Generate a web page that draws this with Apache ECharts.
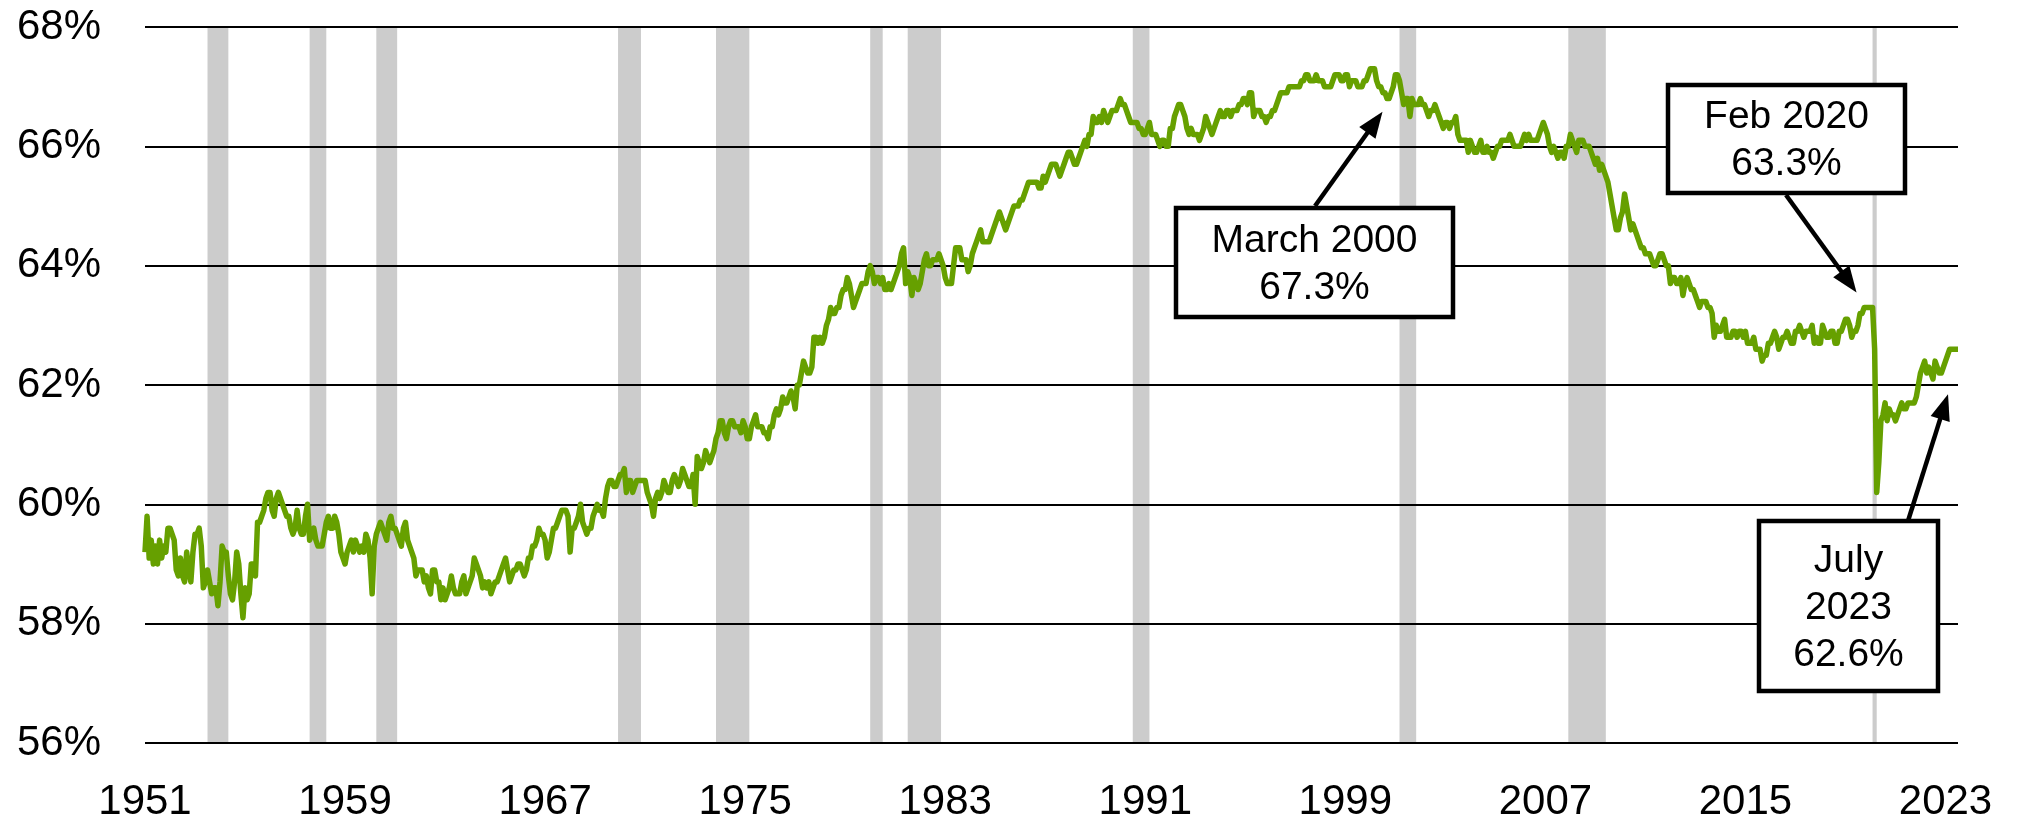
<!DOCTYPE html>
<html><head><meta charset="utf-8">
<script src="https://cdn.jsdelivr.net/npm/echarts/dist/echarts.min.js"></script>
<style>html,body{margin:0;padding:0;background:#fff}#c{width:2017px;height:823px}</style>
</head><body><div id="c"></div>
<script>
// ---- data ----
const firstYear = 1951, lastYear = 2023, lastMonth = 7;
const tickYears = ['1951','1959','1967','1975','1983','1991','1999','2007','2015','2023'];
const yMin = 56, yMax = 68, yStep = 2;

const lfpr1950s = [
59.2,59.8,59.1,59.4,59.0,59.3,59.0,59.4,59.1,59.3,59.2,59.6,
59.6,59.5,59.4,58.9,58.8,59.1,58.8,58.7,59.2,58.9,58.7,59.2,
59.5,59.5,59.6,59.3,58.6,58.7,58.9,58.7,58.5,58.6,58.6,58.3,
58.7,59.3,59.2,59.2,58.8,58.5,58.4,58.7,59.2,59.0,58.5,58.1,
58.6,58.4,58.5,59.0,59.0,58.8,59.7,59.7,59.8,59.9,60.1,60.2,
60.2,59.9,59.8,60.1,60.2,60.1,60.0,59.9,59.8,59.8,59.6,59.5,
59.6,59.9,59.6,59.5,59.5,59.8,60.0,59.4,59.5,59.6,59.4,59.3,
59.3,59.3,59.5,59.7,59.8,59.6,59.6,59.8,59.7,59.5,59.2,59.1,
59.0,59.2,59.3,59.4,59.2,59.4,59.3,59.2,59.3,59.2,59.5,59.4];
const lfpr1960s = [
59.1,58.5,59.3,59.5,59.6,59.7,59.6,59.5,59.4,59.7,59.8,59.6,
59.6,59.5,59.4,59.3,59.6,59.7,59.4,59.3,59.2,59.1,58.8,58.9,
58.9,58.9,58.7,58.8,58.6,58.5,58.9,58.9,58.7,58.7,58.4,58.6,
58.4,58.5,58.6,58.8,58.6,58.5,58.5,58.5,58.7,58.8,58.5,58.6,
58.7,58.8,59.1,59.0,58.9,58.8,58.6,58.7,58.6,58.7,58.5,58.6,
58.7,58.7,58.8,58.9,59.0,59.1,58.9,58.7,58.8,58.9,58.9,59.0,
59.0,58.9,58.8,58.9,59.1,59.1,59.3,59.3,59.4,59.6,59.5,59.5,
59.4,59.1,59.2,59.4,59.6,59.6,59.7,59.8,59.9,59.9,59.9,59.8,
59.2,59.6,59.6,59.7,59.8,60.0,59.7,59.6,59.5,59.6,59.6,59.8,
59.9,60.0,59.9,59.9,59.8,60.1,60.3,60.4,60.4,60.3,60.3,60.4];
const lfpr1970s = [
60.5,60.5,60.6,60.2,60.4,60.4,60.2,60.3,60.4,60.4,60.4,60.4,
60.4,60.2,60.1,60.0,59.8,60.1,60.2,60.1,60.2,60.4,60.3,60.2,
60.2,60.4,60.5,60.4,60.3,60.4,60.6,60.5,60.4,60.3,60.3,60.5,
60.0,60.8,60.7,60.6,60.7,60.9,60.8,60.7,60.8,60.9,61.1,61.2,
61.4,61.4,61.2,61.1,61.3,61.4,61.4,61.3,61.3,61.3,61.2,61.4,
61.3,61.1,61.1,61.3,61.4,61.5,61.3,61.3,61.3,61.2,61.2,61.1,
61.3,61.3,61.5,61.6,61.5,61.6,61.8,61.7,61.7,61.8,61.9,61.8,
61.6,62.0,62.0,62.2,62.4,62.3,62.2,62.2,62.3,62.8,62.8,62.7,
62.8,62.7,62.8,63.0,63.1,63.3,63.2,63.2,63.3,63.3,63.5,63.6,
63.6,63.8,63.7,63.5,63.3,63.4,63.5,63.6,63.7,63.7,63.7,63.9];
const lfpr1980s = [
64.0,63.9,63.7,63.8,63.8,63.7,63.8,63.6,63.6,63.7,63.6,63.7,
63.8,63.9,64.0,64.2,64.3,63.7,63.9,63.8,63.5,63.8,63.7,63.6,
63.7,63.9,64.1,64.2,64.0,64.0,64.1,64.1,64.1,64.2,64.1,64.0,
63.8,63.7,63.7,63.7,64.0,64.3,64.3,64.3,64.1,64.1,64.1,63.9,
64.0,64.2,64.3,64.4,64.5,64.6,64.4,64.4,64.4,64.4,64.5,64.6,
64.7,64.8,64.9,64.8,64.7,64.6,64.7,64.8,64.9,65.0,65.0,65.0,
65.1,65.1,65.2,65.3,65.4,65.4,65.4,65.4,65.4,65.3,65.3,65.5,
65.4,65.5,65.6,65.7,65.7,65.7,65.6,65.5,65.6,65.7,65.8,65.9,
65.9,65.8,65.7,65.7,65.8,65.9,66.0,66.1,66.0,66.2,66.2,66.5,
66.4,66.4,66.5,66.4,66.6,66.5,66.4,66.5,66.6,66.6,66.6,66.7];
const lfpr1990s = [
66.8,66.7,66.7,66.6,66.5,66.4,66.4,66.4,66.4,66.3,66.3,66.2,
66.2,66.3,66.4,66.2,66.2,66.2,66.1,66.0,66.1,66.1,66.0,66.0,
66.3,66.3,66.5,66.6,66.7,66.7,66.6,66.5,66.3,66.2,66.3,66.2,
66.2,66.2,66.1,66.2,66.3,66.5,66.4,66.3,66.2,66.3,66.4,66.5,
66.6,66.5,66.5,66.6,66.6,66.5,66.6,66.6,66.6,66.7,66.7,66.8,
66.8,66.7,66.9,66.9,66.5,66.6,66.6,66.6,66.5,66.5,66.4,66.5,
66.5,66.6,66.6,66.7,66.8,66.9,66.9,66.9,66.9,67.0,67.0,67.0,
67.0,67.0,67.0,67.1,67.1,67.2,67.2,67.1,67.1,67.1,67.2,67.1,
67.1,67.1,67.0,67.0,67.0,67.0,67.1,67.2,67.2,67.2,67.1,67.1,
67.2,67.2,67.0,67.1,67.1,67.1,67.0,67.0,67.0,67.1,67.1,67.2];
const lfpr2000s = [
67.3,67.3,67.3,67.1,67.0,67.0,66.9,66.9,66.8,66.8,66.9,67.0,
67.2,67.2,67.1,66.9,66.7,66.8,66.8,66.5,66.8,66.7,66.7,66.7,
66.8,66.7,66.7,66.6,66.5,66.6,66.6,66.7,66.6,66.5,66.4,66.3,
66.4,66.4,66.3,66.4,66.4,66.5,66.2,66.1,66.1,66.1,66.1,65.9,
66.1,66.0,65.9,65.9,66.0,66.1,65.9,65.9,66.0,65.9,65.9,65.8,
65.9,66.0,66.0,66.1,66.1,66.1,66.1,66.2,66.1,66.0,66.0,66.0,
66.0,66.1,66.2,66.1,66.2,66.1,66.1,66.1,66.1,66.2,66.3,66.4,
66.3,66.2,66.0,65.9,66.0,65.9,65.8,65.9,65.9,65.8,66.0,66.0,
66.2,66.1,66.0,65.9,66.1,66.1,66.1,66.0,66.0,66.0,65.9,65.8,
65.7,65.8,65.6,65.7,65.6,65.5,65.4,65.2,65.0,64.8,64.6,64.6];
const lfpr2010s = [
64.8,64.9,65.2,65.0,64.8,64.6,64.7,64.6,64.5,64.4,64.3,64.3,
64.2,64.2,64.2,64.1,64.0,64.0,64.1,64.2,64.2,64.1,64.0,64.0,
63.7,63.8,63.8,63.7,63.7,63.8,63.5,63.7,63.8,63.7,63.6,63.6,
63.5,63.4,63.3,63.4,63.4,63.4,63.3,63.3,63.2,62.8,63.0,62.9,
62.9,63.0,63.1,62.8,62.8,62.8,62.9,62.9,62.8,62.9,62.9,62.8,
62.9,62.7,62.7,62.7,62.8,62.6,62.6,62.6,62.4,62.5,62.5,62.7,
62.7,62.8,62.9,62.8,62.6,62.7,62.8,62.8,62.9,62.8,62.7,62.7,
62.9,62.9,63.0,62.9,62.8,62.9,62.9,62.9,63.0,62.7,62.8,62.7,
62.7,63.0,62.9,62.8,62.8,62.9,62.9,62.7,62.7,62.9,62.9,63.0,
63.1,63.1,63.0,62.8,62.9,62.9,63.0,63.2,63.2,63.3,63.3,63.3];
const lfpr2020s = [
63.3,63.3,62.6,60.2,60.7,61.4,61.5,61.7,61.4,61.6,61.5,61.5,
61.4,61.5,61.6,61.7,61.6,61.6,61.7,61.7,61.7,61.7,61.8,62.0,
62.2,62.3,62.4,62.2,62.3,62.2,62.1,62.4,62.3,62.2,62.2,62.3,
62.4,62.5,62.6,62.6,62.6,62.6,62.6];

const recessions = [
['1953-07','1954-05'],['1957-08','1958-04'],['1960-04','1961-02'],['1969-12','1970-11'],
['1973-11','1975-03'],['1980-01','1980-07'],['1981-07','1982-11'],['1990-07','1991-03'],
['2001-03','2001-11'],['2007-12','2009-06'],['2020-02','2020-04']];

const notes = [
  {month:'2000-03', value:67.3, lines:['March 2000','67.3%']},
  {month:'2020-02', value:63.3, lines:['Feb 2020','63.3%']},
  {month:'2023-07', value:62.6, lines:['July','2023','62.6%']}
];

// ---- build ----
const months = [];
for (let y = firstYear; y <= lastYear; y++) {
  for (let m = 1; m <= 12; m++) {
    if (y === lastYear && m > lastMonth) break;
    months.push(y + '-' + String(m).padStart(2, '0'));
  }
}
const values = [].concat(lfpr1950s, lfpr1960s, lfpr1970s, lfpr1980s, lfpr1990s, lfpr2000s, lfpr2010s, lfpr2020s);
const bandData = recessions.map(r => [months.indexOf(r[0]), months.indexOf(r[1]), yMin, yMax]);

const FONT = '"Liberation Sans", Arial, sans-serif';
const chart = echarts.init(document.getElementById('c'), null, {renderer: 'canvas'});
chart.setOption({
  animation: false,
  backgroundColor: '#fff',
  grid: {left: 145, right: 59, top: 27, bottom: 80},
  xAxis: {
    type: 'category', data: months, boundaryGap: false, z: 3,
    axisLine: {show: false}, axisTick: {show: false}, splitLine: {show: false},
    axisLabel: {
      interval: (i, v) => v.endsWith('-01') && tickYears.includes(v.slice(0, 4)),
      formatter: v => v.slice(0, 4),
      fontFamily: FONT, fontSize: 42, color: '#000', margin: 38
    }
  },
  yAxis: {
    type: 'value', min: yMin, max: yMax, interval: yStep, z: 3,
    axisLine: {show: false}, axisTick: {show: false},
    splitLine: {lineStyle: {color: '#000', width: 2}},
    axisLabel: {formatter: '{value}%', fontFamily: FONT, fontSize: 42, color: '#000', margin: 44}
  },
  series: [
    {
      type: 'custom', z: 1, silent: true,
      encode: {x: [0, 1], y: [2, 3]},
      data: bandData,
      renderItem: (params, api) => {
        const p1 = api.coord([api.value(0), api.value(3)]);
        const p2 = api.coord([api.value(1), api.value(2)]);
        return {type: 'rect', shape: {x: p1[0], y: p1[1], width: p2[0] - p1[0], height: p2[1] - p1[1]},
                style: {fill: '#CCCCCC'}};
      }
    },
    {
      type: 'line', z: 5, data: values, symbol: 'none', smooth: false,
      lineStyle: {color: '#66A000', width: 5.5, join: 'round'}
    }
  ]
});

// ---- annotations (boxes placed in layout, arrow tips anchored to data) ----
const boxes = [
  {x: 1176, y: 208, w: 277, h: 109, tipOff: [8, 43], base: [1315, 206]},
  {x: 1668, y: 85, w: 237, h: 108, tipOff: [-16, -15], base: [1786, 195]},
  {x: 1759, y: 521, w: 179, h: 170, tipOff: [-10, 45], base: [1908, 521]}
];
const g = [];
notes.forEach((n, k) => {
  const b = boxes[k];
  const pt = chart.convertToPixel({xAxisIndex: 0, yAxisIndex: 0}, [n.month, n.value]);
  const tip = [pt[0] + b.tipOff[0], pt[1] + b.tipOff[1]];
  const base = b.base;
  const dx = tip[0] - base[0], dy = tip[1] - base[1], L = Math.hypot(dx, dy);
  const ux = dx / L, uy = dy / L, hl = 26, hw = 10;
  const hx = tip[0] - ux * hl, hy = tip[1] - uy * hl;
  g.push({type: 'line', z: 100, shape: {x1: base[0], y1: base[1], x2: hx + ux * 2, y2: hy + uy * 2},
          style: {stroke: '#000', lineWidth: 4.5}});
  g.push({type: 'polygon', z: 100, shape: {points: [tip, [hx - uy * hw, hy + ux * hw], [hx + uy * hw, hy - ux * hw]]},
          style: {fill: '#000'}});
  g.push({type: 'rect', z: 100, shape: {x: b.x, y: b.y, width: b.w, height: b.h},
          style: {fill: '#fff', stroke: '#000', lineWidth: 4.5}});
  g.push({type: 'text', z: 101, x: b.x + b.w / 2, y: b.y + b.h / 2 + 2,
          style: {text: n.lines.join('\n'), fontFamily: FONT, fontSize: 39, fill: '#000',
                  align: 'center', verticalAlign: 'middle', lineHeight: 47}});
});
chart.setOption({graphic: g});
</script>
</body></html>
